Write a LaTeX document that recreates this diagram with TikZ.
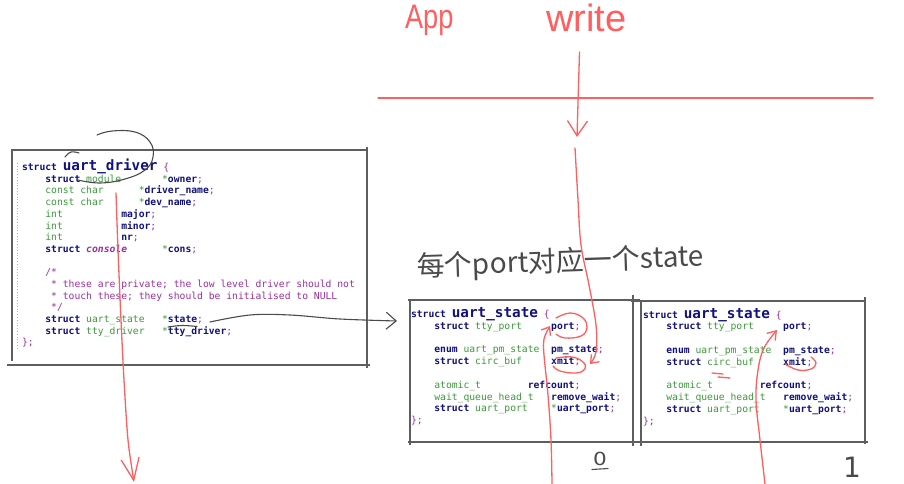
\documentclass[tikz,border=0pt]{standalone}
\usepackage{fontspec}
\usetikzlibrary{arrows.meta}
\newfontfamily\codef{DejaVu Sans Mono}
\newfontfamily\handf{Liberation Sans}
\newfontfamily\cjkf{Noto Sans CJK SC}
\newfontfamily\digf{DejaVu Sans}
\definecolor{kw}{HTML}{12127E}
\definecolor{ty}{HTML}{3A9A3A}
\definecolor{pu}{HTML}{9A2FA0}
\definecolor{hred}{HTML}{FF5F5F}
\definecolor{hgray}{HTML}{4A4A4A}
\definecolor{framec}{HTML}{5E5E5E}
\newlength\cwl \setlength\cwl{5.84pt}
\newcommand\ws[1]{\hspace*{#1\cwl}}
\newcommand\kwd[1]{{\bfseries\color{kw}#1}}
\newcommand\typ[1]{{\color{ty}#1}}
\newcommand\pnc[1]{{\color{pu}#1}}
\newcommand\cmt[1]{{\color{pu}#1}}
\newcommand\itk[1]{{\bfseries\itshape\color{pu}#1}}
\newcommand\bigname[1]{{\fontsize{14.3}{15}\selectfont\bfseries\color{kw}#1}}
\begin{document}
\begin{tikzpicture}[x=1pt,y=-1pt,
  code/.style={anchor=base west, inner sep=0pt, outer sep=0pt, font=\codef\fontsize{9.7}{11}\selectfont},
  framel/.style={draw=framec, line width=1.1pt},
  redpen/.style={draw=hred, line width=1.3pt, line cap=round, line join=round},
  graypen/.style={draw=hgray, line width=1.1pt, line cap=round, line join=round},
  hand/.style={inner sep=0pt, outer sep=0pt}]
\useasboundingbox (0,0) rectangle (904,484);
\fill[white] (0,0) rectangle (904,484);

% ---------- frames ----------
\draw[framel] (12,150) -- (368,150);
\draw[framel] (367,147) -- (367,368);
\draw[framel] (7,365) -- (370,365);
\draw[framel] (12,149) -- (12,361);
\draw[draw=gray!60, dotted, line width=0.8pt] (17,163) -- (17,350);

\draw[framel] (408,300) -- (640,300);
\draw[framel] (410,299) -- (410,445);
\draw[framel] (408,442) -- (640,442);
\draw[framel] (633,295) -- (633,446);
\draw[framel] (631,301) -- (866,301);
\draw[framel] (641,300) -- (641,446);
\draw[framel] (640,442) -- (868,442);
\draw[framel] (865,297) -- (865,444);

% ---------- uart_driver ----------
\node[code] (d0) at (22,170.0) {\kwd{struct}\ws1\bigname{uart\_driver}\ws1\pnc{\{}};
\node[code] (d1) at (22,182.3) {\ws4\kwd{struct}\ws1\typ{module}\ws7\typ{*}\kwd{owner}\pnc{;}};
\node[code] (d2) at (22,193.9) {\ws4\typ{const}\ws1\typ{char}\ws6\typ{*}\kwd{driver\_name}\pnc{;}};
\node[code] (d3) at (22,205.6) {\ws4\typ{const}\ws1\typ{char}\ws6\typ{*}\kwd{dev\_name}\pnc{;}};
\node[code] (d4) at (22,217.3) {\ws4\typ{int}\ws{10}\kwd{major}\pnc{;}};
\node[code] (d5) at (22,229.0) {\ws4\typ{int}\ws{10}\kwd{minor}\pnc{;}};
\node[code] (d6) at (22,240.6) {\ws4\typ{int}\ws{10}\kwd{nr}\pnc{;}};
\node[code] (d7) at (22,252.3) {\ws4\kwd{struct}\ws1\itk{console}\ws6\typ{*}\kwd{cons}\pnc{;}};
\node[code] (d9) at (22,275.6) {\ws4\cmt{/*}};
\node[code] (d10) at (22,287.3) {\ws5\cmt{* these are private; the low level driver should not}};
\node[code] (d11) at (22,299.0) {\ws5\cmt{* touch these; they should be initialised to NULL}};
\node[code] (d12) at (22,310.6) {\ws5\cmt{*/}};
\node[code] (d13) at (22,322.3) {\ws4\kwd{struct}\ws1\typ{uart\_state}\ws3\typ{*}\kwd{state}\pnc{;}};
\node[code] (d14) at (22,334.0) {\ws4\kwd{struct}\ws1\typ{tty\_driver}\ws3\typ{*}\kwd{tty\_driver}\pnc{;}};
\node[code] (d15) at (22,345.7) {\pnc{\};}};

% ---------- uart_state 0 ----------
\node[code] (a0) at (411,317.5) {\kwd{struct}\ws1\bigname{uart\_state}\ws1\pnc{\{}};
\node[code] (a1) at (411,329.3) {\ws4\kwd{struct}\ws1\typ{tty\_port}\ws5\kwd{port}\pnc{;}};
\node[code] (a3) at (411,352.9) {\ws4\kwd{enum}\ws1\typ{uart\_pm\_state}\ws2\kwd{pm\_state}\pnc{;}};
\node[code] (a4) at (411,364.7) {\ws4\kwd{struct}\ws1\typ{circ\_buf}\ws5\kwd{xmit}\pnc{;}};
\node[code] (a6) at (411,388.3) {\ws4\typ{atomic\_t}\ws8\kwd{refcount}\pnc{;}};
\node[code] (a7) at (411,400.1) {\ws4\typ{wait\_queue\_head\_t}\ws3\kwd{remove\_wait}\pnc{;}};
\node[code] (a8) at (411,411.9) {\ws4\kwd{struct}\ws1\typ{uart\_port}\ws4\typ{*}\kwd{uart\_port}\pnc{;}};
\node[code] (a9) at (411,423.7) {\pnc{\};}};

% ---------- uart_state 1 ----------
\node[code] (b0) at (643,318.0) {\kwd{struct}\ws1\bigname{uart\_state}\ws1\pnc{\{}};
\node[code] (b1) at (643,329.8) {\ws4\kwd{struct}\ws1\typ{tty\_port}\ws5\kwd{port}\pnc{;}};
\node[code] (b3) at (643,353.4) {\ws4\kwd{enum}\ws1\typ{uart\_pm\_state}\ws2\kwd{pm\_state}\pnc{;}};
\node[code] (b4) at (643,365.2) {\ws4\kwd{struct}\ws1\typ{circ\_buf}\ws5\kwd{xmit}\pnc{;}};
\node[code] (b6) at (643,388.8) {\ws4\typ{atomic\_t}\ws8\kwd{refcount}\pnc{;}};
\node[code] (b7) at (643,400.6) {\ws4\typ{wait\_queue\_head\_t}\ws3\kwd{remove\_wait}\pnc{;}};
\node[code] (b8) at (643,412.4) {\ws4\kwd{struct}\ws1\typ{uart\_port}\ws4\typ{*}\kwd{uart\_port}\pnc{;}};
\node[code] (b9) at (643,424.2) {\pnc{\};}};

% ---------- handwritten labels ----------
\node[hand, anchor=base west, xscale=0.8, text=hred, font=\handf\fontsize{34}{34}\selectfont] (app) at (405,29) {App};
\node[hand, anchor=base west, text=hred, font=\handf\fontsize{38}{38}\selectfont] (write) at (546,32) {write};
\node[hand, anchor=base west, rotate=2, text=hgray, font=\cjkf\fontsize{28}{28}\selectfont] (note) at (417,276) {每个port对应一个state};
\node[hand, anchor=base west, xscale=1.2, text=hgray, font=\digf\fontsize{18}{18}\selectfont] (n0) at (593,465) {0};
\node[hand, anchor=base, text=hgray, font=\digf\fontsize{28}{28}\selectfont] (n1) at (852,477) {1};

% ---------- red strokes ----------
\coordinate (hl) at (378,98);
\coordinate (hr) at (873,98);
\draw[redpen] (hl) -- (hr);

\coordinate (w0) at (579.5,52);
\coordinate (w1) at (577,137);
\draw[redpen, -{Straight Barb[length=15pt,width=20pt]}] (w0) -- (w1);

\coordinate (w2) at (575,148);
\coordinate (w3) at (590,364);
\draw[redpen, -{Straight Barb[length=7pt,width=11pt]}] plot[smooth, tension=0.6] coordinates {(w2) (578,200) (581,245) (589,285) (596,325) (596,352) (w3)};

\draw[redpen] plot[smooth, tension=0.7] coordinates {(556,318) (570,313) (583,318) (587,328) (581,336) (565,338) (556,334)};
\draw[redpen] plot[smooth, tension=0.7] coordinates {(556,358) (572,357) (583,362) (585,369) (576,373) (560,371) (553,366)};

\coordinate (p0s) at (552,484);
\coordinate (p0e) at (550,326);
\draw[redpen, -{Straight Barb[length=7pt,width=11pt]}] plot[smooth, tension=0.6] coordinates {(p0s) (551,440) (548,395) (544,355) (544,339) (p0e)};

\coordinate (p1s) at (765,484);
\coordinate (p1e) at (777,330);
\draw[redpen, -{Straight Barb[length=8pt,width=11pt]}] plot[smooth, tension=0.6] coordinates {(p1s) (760,440) (756,400) (758,370) (764,348) (p1e)};

\draw[redpen] plot[smooth, tension=0.7] coordinates {(785,364) (798,370) (811,369) (816,363) (811,357)};
\draw[redpen] (712,373) -- (723,374);
\draw[redpen] (718,377) -- (730,378);

\coordinate (l0) at (116,193);
\coordinate (l1) at (134,482);
\draw[redpen, -{Straight Barb[length=22pt,width=18pt]}] plot[smooth, tension=0.5] coordinates {(l0) (118,250) (121,320) (124,380) (128,440) (l1)};

% ---------- gray strokes ----------
\coordinate (s0) at (210,322);
\coordinate (s1) at (397,321);
\draw[graypen, -{Straight Barb[length=10pt,width=17pt]}] plot[smooth, tension=0.6] coordinates {(s0) (250,315) (290,315) (340,319) (s1)};
\draw[graypen] plot[smooth, tension=0.7] coordinates {(97,135) (112,131) (135,132) (150,142) (153,157) (145,170) (125,179) (100,183) (78,180)};
\draw[graypen] plot[smooth, tension=0.7] coordinates {(65,157) (71,152) (79,153)};
\draw[graypen] plot[smooth, tension=0.7] coordinates {(168,327) (182,325.5) (197,326.5)};
\draw[graypen] (592,469.5) -- (608,468.5);
\end{tikzpicture}
\end{document}
